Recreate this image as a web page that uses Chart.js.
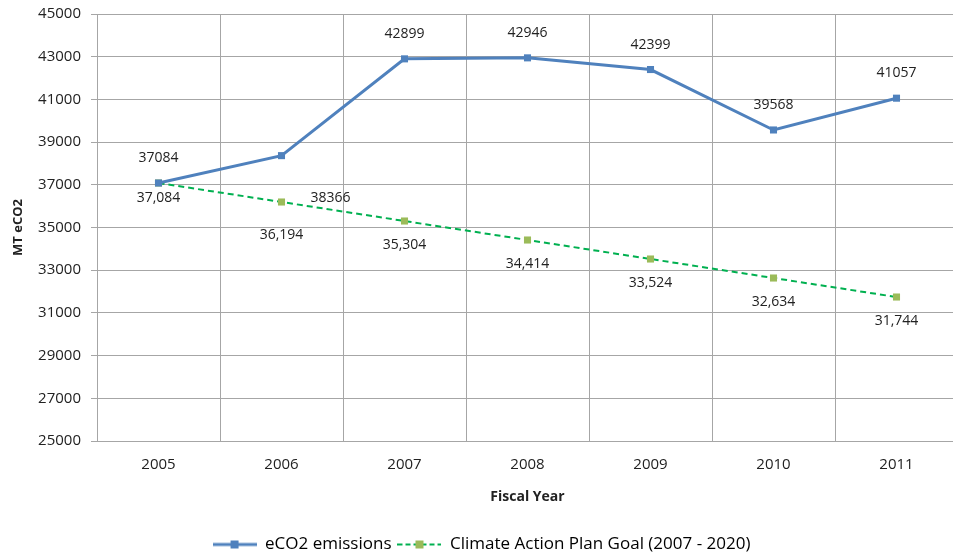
<!DOCTYPE html>
<html>
<head>
<meta charset="utf-8">
<script src="https://cdn.jsdelivr.net/npm/chart.js@4"></script>
<style>
  html, body { margin: 0; padding: 0; background: #fff; overflow: hidden; }
  #wrap { width: 963px; height: 563px; }
</style>
</head>
<body>
<div id="wrap"><canvas id="chart"></canvas></div>
<script>
// chart data
const years = ['2005', '2006', '2007', '2008', '2009', '2010', '2011'];
const emissions = [37084, 38366, 42899, 42946, 42399, 39568, 41057];
const planGoal = [37084, 36194, 35304, 34414, 33524, 32634, 31744];
const yMin = 25000, yMax = 45000, yStep = 2000;

const FONT = "'Open Sans', 'Noto Sans', sans-serif";
const blue = '#4F81BD';
const green = '#00B050';
const greenMarker = '#9BBB59';

// little legend icons: line with a square marker in the middle
function legendIcon(lineColor, markColor, dashed) {
  const c = document.createElement('canvas');
  c.width = 44; c.height = 12;
  const g = c.getContext('2d');
  g.strokeStyle = lineColor;
  g.lineWidth = dashed ? 2 : 3;
  if (dashed) g.setLineDash([5, 3]);
  g.beginPath(); g.moveTo(0, 6); g.lineTo(44, 6); g.stroke();
  g.fillStyle = markColor;
  g.fillRect(18, 2, 8, 8);
  return c;
}

// draws the value labels next to each point
const valueLabels = {
  id: 'valueLabels',
  afterDatasetsDraw(chart) {
    const ctx = chart.ctx;
    ctx.save();
    ctx.font = '14px ' + FONT;
    ctx.fillStyle = '#222';
    ctx.textBaseline = 'middle';
    ctx.textAlign = 'center';
    chart.data.datasets.forEach((ds, di) => {
      const meta = chart.getDatasetMeta(di);
      meta.data.forEach((pt, i) => {
        const v = ds.data[i];
        let txt, x = pt.x, y;
        if (di === 0) {
          txt = String(v);
          y = pt.y - 25;
          if (i === 1) { x = pt.x + 49; y = pt.y + 42; }
        } else {
          txt = v.toLocaleString('en-US');
          y = pt.y + 24;
          if (i === 0) y = pt.y + 15;
          if (i === 1) y = pt.y + 33;
        }
        ctx.fillText(txt, x, y);
      });
    });
    ctx.restore();
  }
};

new Chart(document.getElementById('chart'), {
  type: 'line',
  data: {
    labels: years,
    datasets: [
      {
        label: 'eCO2 emissions',
        data: emissions,
        borderColor: blue,
        backgroundColor: blue,
        borderWidth: 3,
        pointStyle: 'rect',
        pointRadius: 5,
        pointBorderWidth: 0,
        tension: 0
      },
      {
        label: 'Climate Action Plan Goal (2007 - 2020)',
        data: planGoal,
        borderColor: green,
        backgroundColor: greenMarker,
        borderWidth: 2,
        borderDash: [6, 4],
        pointStyle: 'rect',
        pointRadius: 5,
        pointBorderWidth: 0,
        tension: 0
      }
    ]
  },
  options: {
    responsive: true,
    maintainAspectRatio: false,
    animation: false,
    layout: { padding: { top: 14, right: 0, left: 0, bottom: 0 } },
    scales: {
      x: {
        offset: true,
        grid: { offset: true, color: '#A6A6A6', drawTicks: false },
        border: { color: '#A6A6A6', width: 1 },
        ticks: { color: '#222', font: { family: FONT, size: 15 }, padding: 15 },
        title: {
          display: true, text: 'Fiscal Year', color: '#222',
          font: { family: FONT, size: 14, weight: 'bold' }, padding: { top: 8, bottom: 25 }
        },
        afterFit(s) { s.height = 89; }
      },
      y: {
        min: yMin, max: yMax,
        ticks: {
          stepSize: yStep, color: '#222', font: { family: FONT, size: 15 }, padding: 10,
          callback: v => String(v)
        },
        grid: { color: '#A6A6A6', tickLength: 6 },
        border: { color: '#A6A6A6', width: 1 },
        title: {
          display: true, text: 'MT eCO2', color: '#222',
          font: { family: FONT, size: 13, weight: 'bold' }, padding: { top: 10, bottom: 0 }
        },
        afterFit(s) { s.width = 97; s.paddingTop = 0; }
      }
    },
    plugins: {
      legend: {
        position: 'bottom',
        align: 'center',
        labels: {
          usePointStyle: true,
          pointStyleWidth: 44,
          boxHeight: 12,
          color: '#222',
          font: { family: FONT, size: 17 },
          padding: 6,
          generateLabels(chart) {
            return chart.data.datasets.map((ds, i) => ({
              text: ds.label,
              pointStyle: i === 0 ? legendIcon(blue, blue, false) : legendIcon(green, greenMarker, true),
              fillStyle: ds.backgroundColor,
              strokeStyle: ds.borderColor,
              lineWidth: 0,
              datasetIndex: i,
              hidden: false
            }));
          }
        }
      },
      tooltip: { enabled: false }
    }
  },
  plugins: [valueLabels]
});
</script>
</body>
</html>
